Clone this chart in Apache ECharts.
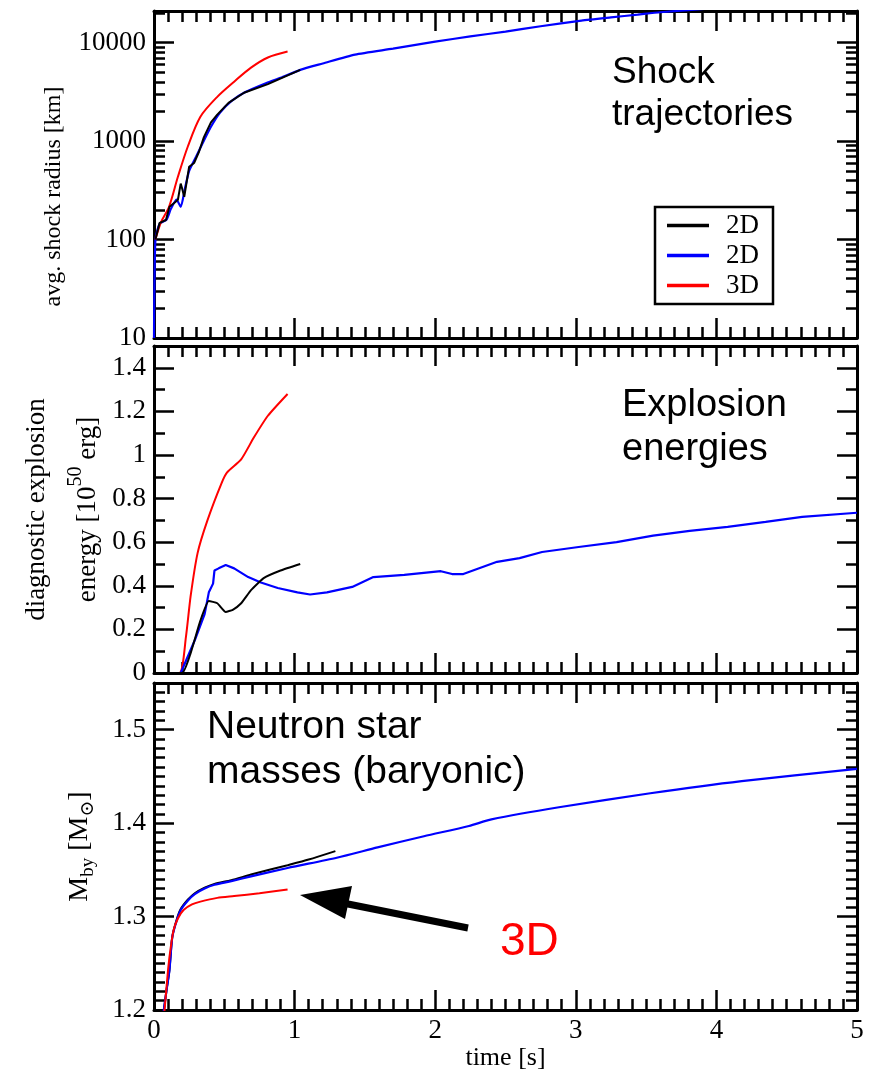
<!DOCTYPE html>
<html>
<head>
<meta charset="utf-8">
<script src="https://cdn.jsdelivr.net/npm/echarts@6/dist/echarts.min.js"></script>
<style>
  html, body { margin: 0; padding: 0; background: #fff; }
  #chart { width: 872px; height: 1069px; }
</style>
</head>
<body>
<div id="chart"></div>
<script>
// ---------- average shock radius [km] ----------
const tShockBlack = [0.01, 0.04, 0.085, 0.11, 0.15, 0.17, 0.19, 0.2, 0.215, 0.25, 0.285, 0.32, 0.355, 0.405, 0.45, 0.53, 0.64, 0.81, 1.04];
const rShockBlack = [100, 148, 158, 215, 240, 254, 370, 330, 272, 550, 600, 780, 1100, 1550, 1860, 2450, 3100, 3800, 5300];
const tShockBlue = [0, 0.01, 0.04, 0.09, 0.12, 0.16, 0.19, 0.22, 0.25, 0.3, 0.35, 0.405, 0.47, 0.55, 0.65, 0.8, 0.9, 1.04, 1.2, 1.43, 1.7, 2.0, 2.25, 2.5, 2.75, 3.04, 3.25, 3.44, 3.6, 4.0, 4.5, 5.0];
const rShockBlue = [10, 100, 145, 160, 205, 255, 215, 330, 500, 700, 980, 1400, 1950, 2550, 3150, 3900, 4400, 5300, 6150, 7570, 8700, 10250, 11600, 12970, 14700, 16800, 18100, 19300, 20400, 22500, 25000, 27000];
const tShockRed = [0.01, 0.05, 0.107, 0.17, 0.24, 0.33, 0.45, 0.57, 0.69, 0.81, 0.95];
const rShockRed = [100, 150, 215, 434, 877, 1770, 2820, 4020, 5580, 7080, 8130];

// ---------- diagnostic explosion energy [1e50 erg] ----------
const tEnergyBlack = [0, 0.2, 0.26, 0.33, 0.39, 0.45, 0.51, 0.56, 0.62, 0.69, 0.78, 0.9, 1.04];
const eEnergyBlack = [0, 0, 0.09, 0.24, 0.33, 0.32, 0.28, 0.29, 0.32, 0.38, 0.435, 0.47, 0.50];
const tEnergyBlue = [0, 0.19, 0.29, 0.36, 0.39, 0.42, 0.43, 0.46, 0.51, 0.57, 0.67, 0.76, 0.88, 1.02, 1.11, 1.23, 1.41, 1.56, 1.78, 2.04, 2.12, 2.2, 2.44, 2.6, 2.76, 3.02, 3.29, 3.55, 3.81, 4.08, 4.35, 4.61, 5.0];
const eEnergyBlue = [0, 0, 0.15, 0.27, 0.37, 0.41, 0.47, 0.48, 0.495, 0.48, 0.44, 0.415, 0.39, 0.37, 0.36, 0.37, 0.395, 0.44, 0.45, 0.467, 0.454, 0.454, 0.51, 0.527, 0.555, 0.578, 0.60, 0.63, 0.652, 0.67, 0.693, 0.716, 0.735];
const tEnergyRed = [0, 0.18, 0.227, 0.26, 0.31, 0.38, 0.48, 0.52, 0.62, 0.71, 0.81, 0.95];
const eEnergyRed = [0, 0, 0.165, 0.35, 0.55, 0.70, 0.87, 0.92, 0.98, 1.08, 1.18, 1.28];

// ---------- baryonic neutron star mass [Msun] ----------
const tMassBlack = [0.06, 0.07, 0.09, 0.11, 0.13, 0.16, 0.19, 0.24, 0.29, 0.36, 0.43, 0.55, 0.69, 0.95, 1.1, 1.29];
const mMassBlack = [1.19, 1.2, 1.222, 1.243, 1.278, 1.296, 1.308, 1.318, 1.325, 1.331, 1.335, 1.339, 1.345, 1.355, 1.361, 1.370];
const tMassBlue = [0.06, 0.07, 0.09, 0.11, 0.13, 0.16, 0.19, 0.24, 0.29, 0.36, 0.43, 0.55, 0.69, 0.95, 1.3, 1.59, 1.92, 2.24, 2.4, 2.88, 3.53, 4.18, 5.0];
const mMassBlue = [1.19, 1.2, 1.222, 1.243, 1.278, 1.295, 1.307, 1.317, 1.324, 1.330, 1.334, 1.338, 1.343, 1.352, 1.363, 1.374, 1.386, 1.397, 1.404, 1.417, 1.432, 1.445, 1.458];
const tMassRed = [0.065, 0.075, 0.1, 0.12, 0.14, 0.17, 0.21, 0.27, 0.33, 0.45, 0.57, 0.75, 0.95];
const mMassRed = [1.19, 1.2, 1.243, 1.268, 1.286, 1.298, 1.307, 1.313, 1.316, 1.32, 1.322, 1.325, 1.329];

// ---------- ticks ----------
const radiusMajor = [10, 100, 1000, 10000];
const radiusMinor = [20, 30, 40, 50, 60, 70, 80, 90, 200, 300, 400, 500, 600, 700, 800, 900,
                     2000, 3000, 4000, 5000, 6000, 7000, 8000, 9000, 20000];
const energyMajor = [0, 0.2, 0.4, 0.6, 0.8, 1, 1.2, 1.4];
const energyMinor = [0.1, 0.3, 0.5, 0.7, 0.9, 1.1, 1.3];
const massMajor = [1.2, 1.3, 1.4, 1.5];
const massMinor = [];
for (let i = 1; i < 35; i++) { if (i % 10 !== 0) massMinor.push(Math.round((1.2 + i / 100) * 1000) / 1000); }

const SERIF = '"Liberation Serif", "DejaVu Serif", serif';
const SANS = '"Liberation Sans", Arial, sans-serif';
const INK = '#000';
const TICK_FONT = 27;

const pairs = (t, v) => t.map((x, i) => [x, v[i]]);

const gridBox = (top) => ({ left: 154, right: 15, top: top, height: 327, outerBoundsMode: 'none' });

function xAxesFor(g, withLabels) {
  const base = {
    type: 'value', gridIndex: g, min: 0, max: 5, interval: 1,
    axisLine: { show: true, onZero: false, lineStyle: { color: INK, width: 3 } },
    axisTick: { show: true, inside: true, length: 20, lineStyle: { color: INK, width: 2.5 } },
    minorTick: { show: true, splitNumber: 10, length: 11, lineStyle: { color: INK, width: 2.5 } },
    splitLine: { show: false },
    axisLabel: { show: false }
  };
  const bottom = Object.assign({}, base, { position: 'bottom' });
  if (withLabels) {
    bottom.axisLabel = { show: true, color: INK, fontFamily: SERIF, fontSize: TICK_FONT, margin: 7 };
    bottom.name = 'time [s]';
    bottom.nameLocation = 'middle';
    bottom.nameGap = 35;
    bottom.nameTextStyle = { color: INK, fontFamily: SERIF, fontSize: 26 };
  }
  const top = Object.assign({}, base, { position: 'top' });
  return [bottom, top];
}

function yAxesFor(g, type, min, max, majors, minors, fmt, nameCfg) {
  const axes = [];
  ['left', 'right'].forEach(side => {
    const major = {
      type: type, gridIndex: g, position: side, min: min, max: max,
      axisLine: { show: true, onZero: false, lineStyle: { color: INK, width: 3 } },
      axisTick: { show: true, inside: true, length: 20, customValues: majors, lineStyle: { color: INK, width: 2.5 } },
      axisLabel: { show: side === 'left', customValues: majors, formatter: fmt, color: INK, fontFamily: SERIF, fontSize: TICK_FONT, margin: 8 },
      splitLine: { show: false }
    };
    if (side === 'left' && nameCfg) Object.assign(major, nameCfg, { nameLocation: 'middle' });
    const minor = {
      type: type, gridIndex: g, position: side, min: min, max: max,
      axisLine: { show: false, onZero: false },
      axisTick: { show: true, inside: true, length: 11, customValues: minors, lineStyle: { color: INK, width: 2.5 } },
      axisLabel: { show: false },
      splitLine: { show: false }
    };
    axes.push(major, minor);
  });
  return axes;
}

const fmtInt = v => String(Math.round(v));
const fmtDec = v => String(Math.round(v * 100) / 100);

const yAxes = [].concat(
  yAxesFor(0, 'log', 10, 21000, radiusMajor, radiusMinor, fmtInt, {
    name: 'avg. shock radius [km]', nameGap: 88,
    nameTextStyle: { color: INK, fontFamily: SERIF, fontSize: 24, padding: [0, 44, 0, 0] }
  }),
  yAxesFor(1, 'value', 0, 1.5, energyMajor, energyMinor, fmtDec, {
    name: '{a|diagnostic explosion}\n{b|energy [10}{sup|50}{b| erg]}', nameGap: 55,
    nameTextStyle: {
      color: INK, fontFamily: SERIF, fontSize: 27,
      rich: {
        a: { fontFamily: SERIF, fontSize: 27, lineHeight: 58, color: INK },
        b: { fontFamily: SERIF, fontSize: 27, lineHeight: 27, padding: [17, 0, 0, 0], color: INK },
        sup: { fontFamily: SERIF, fontSize: 20, lineHeight: 20, verticalAlign: 'top', color: INK }
      }
    }
  }),
  yAxesFor(2, 'value', 1.2, 1.55, massMajor, massMinor, fmtDec, {
    name: '{m|M}{s|by}{m| [M}{s|\u2299}{m|]}', nameGap: 56,
    nameTextStyle: {
      color: INK, fontFamily: SERIF, fontSize: 28,
      rich: {
        m: { fontFamily: SERIF, fontSize: 28, lineHeight: 28, padding: [0, 0, 8, 0], color: INK },
        s: { fontFamily: SERIF, fontSize: 19, lineHeight: 19, verticalAlign: 'bottom', color: INK }
      }
    }
  })
);

const xAxes = [].concat(xAxesFor(0, false), xAxesFor(1, false), xAxesFor(2, true));

function curve(name, t, v, color, g, width, smooth) {
  return {
    name: name, type: 'line', xAxisIndex: 2 * g, yAxisIndex: 4 * g,
    data: pairs(t, v), symbol: 'none', showSymbol: false,
    smooth: smooth || false,
    lineStyle: { color: color, width: width || 2 }, itemStyle: { color: color },
    clip: true, silent: true
  };
}

const BLACK = '#000000', BLUE = '#0000ff', RED = '#ff0000';

const series = [
  curve('2D-b', tShockBlue, rShockBlue, BLUE, 0, 2.2, 0.2),
  curve('3D', tShockRed, rShockRed, RED, 0, 2, 0.3),
  curve('2D-a', tShockBlack, rShockBlack, BLACK, 0, 2),
  curve('3D', tEnergyRed, eEnergyRed, RED, 1, 2, 0.2),
  curve('2D-b', tEnergyBlue, eEnergyBlue, BLUE, 1, 2.2),
  curve('2D-a', tEnergyBlack, eEnergyBlack, BLACK, 1, 2, 0.15),
  curve('2D-a', tMassBlack, mMassBlack, BLACK, 2, 2, 0.25),
  curve('2D-b', tMassBlue, mMassBlue, BLUE, 2, 2.2, 0.25),
  curve('3D', tMassRed, mMassRed, RED, 2, 2, 0.25)
];

const note = (left, top, text, color, size, lh) => ({
  type: 'text', left: left, top: top, silent: true, z: 100,
  style: { text: text, fill: color, font: size + 'px ' + SANS, lineHeight: lh || 44 }
});

const option = {
  animation: false,
  backgroundColor: '#fff',
  grid: [gridBox(11), gridBox(346), gridBox(683)],
  xAxis: xAxes,
  yAxis: yAxes,
  legend: {
    data: ['2D-a', '2D-b', '3D'],
    formatter: n => n.replace(/-.*$/, ''),
    orient: 'vertical', left: 655, top: 207,
    padding: [5, 14, 5, 12], itemGap: 3, itemWidth: 42, itemHeight: 3.5,
    icon: 'rect',
    borderColor: INK, borderWidth: 2.5, borderRadius: 0, backgroundColor: '#fff',
    selectedMode: false,
    textStyle: { color: INK, fontFamily: SERIF, fontSize: 27, lineHeight: 26, padding: [0, 0, 0, 12] }
  },
  series: series,
  graphic: [
    note(612, 52, 'Shock\ntrajectories', INK, 37, 42),
    note(622, 384, 'Explosion\nenergies', INK, 38, 44),
    note(207, 705, 'Neutron star\nmasses (baryonic)', INK, 39, 45),
    note(500, 919, '3D', RED, 46, 46),
    { type: 'line', silent: true, z: 100, shape: { x1: 468, y1: 928, x2: 338, y2: 902 }, style: { stroke: INK, lineWidth: 7 } },
    { type: 'polygon', silent: true, z: 100, shape: { points: [[300, 895], [352, 886], [345, 919]] }, style: { fill: INK } }
  ]
};

const chart = echarts.init(document.getElementById('chart'), null, { renderer: 'canvas' });
chart.setOption(option);
</script>
</body>
</html>
